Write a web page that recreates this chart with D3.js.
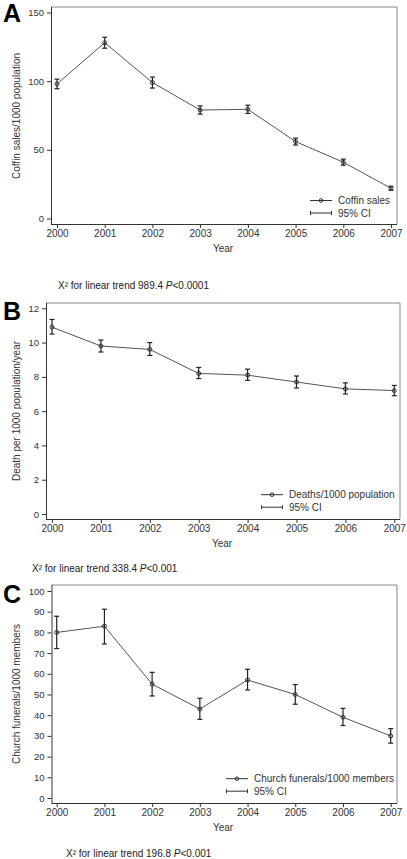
<!DOCTYPE html>
<html><head><meta charset="utf-8">
<script src="https://cdn.jsdelivr.net/npm/d3@7"></script>
<style>body{margin:0;background:#fff}svg{display:block;font-family:"Liberation Sans",Arial,sans-serif}</style>
</head><body>
<svg id="c" width="407" height="859"></svg>
<script>
const years = [2000, 2001, 2002, 2003, 2004, 2005, 2006, 2007];

const coffinSales = [98, 128, 99, 79, 79.5, 56, 41, 22];
const coffinLow   = [94.5, 124, 95, 76, 76.5, 53.5, 38.8, 20.5];
const coffinHigh  = [101.5, 132, 103, 82, 82.5, 58.5, 43.2, 23.5];
const coffinTicks = [0, 50, 100, 150];

const deaths     = [10.9, 9.8, 9.6, 8.2, 8.1, 7.7, 7.3, 7.2];
const deathsLow  = [10.5, 9.45, 9.25, 7.9, 7.8, 7.35, 7.0, 6.9];
const deathsHigh = [11.35, 10.15, 10.0, 8.55, 8.45, 8.05, 7.65, 7.5];
const deathTicks = [0, 2, 4, 6, 8, 10, 12];

const funerals     = [80, 83, 55, 43, 57, 50, 39, 30];
const funeralsLow  = [72.2, 74.4, 49.3, 38, 52.2, 45.3, 35, 26.5];
const funeralsHigh = [87.8, 91.2, 60.7, 48.2, 62.2, 54.8, 43.3, 33.5];
const funeralTicks = [0, 10, 20, 30, 40, 50, 60, 70, 80, 90, 100];

const svg = d3.select("#c");

function panel(o) {
  const g = svg.append("g");
  const x = d3.scaleLinear().domain([2000, 2007]).range([o.x0, o.x1]);
  const y = d3.scaleLinear().domain([0, o.ymax]).range([o.y0, o.y1]);
  g.append("path").attr("d", `M${o.left},${o.top}H${o.right}V${o.bottom}`)
    .attr("fill", "none").attr("stroke", "#888").attr("stroke-width", 1);
  const ya = g.append("g").attr("transform", `translate(${o.left},0)`)
    .call(d3.axisLeft(y).tickValues(o.ticks).tickSize(4).tickPadding(3).tickSizeOuter(0));
  ya.select(".domain").attr("d", `M0.5,${o.top}V${o.bottom}`).attr("stroke", "#333");
  const xa = g.append("g").attr("transform", `translate(0,${o.bottom})`)
    .call(d3.axisBottom(x).tickValues(years).tickFormat(d3.format("d")).tickSize(4).tickPadding(2).tickSizeOuter(0));
  xa.select(".domain").attr("d", `M${o.left},0.5H${o.right}`).attr("stroke", "#333");
  [ya, xa].forEach(a => {
    a.selectAll("text").attr("fill", "#333").attr("font-family", "Liberation Sans, Arial, sans-serif");
    a.selectAll(".tick line").attr("stroke", "#333");
  });
  ya.selectAll("text").attr("font-size", 9.5);
  xa.selectAll("text").attr("font-size", 10);
  g.append("text").attr("x", o.yearX).attr("y", o.bottom + 28).attr("text-anchor", "middle")
    .attr("font-size", 10).attr("fill", "#333").text("Year");
  g.append("text").attr("transform", `translate(${o.ylabX},${o.ylabY}) rotate(-90)`)
    .attr("text-anchor", "middle").attr("font-size", 10).attr("fill", "#333").text(o.ylab);
  g.append("text").attr("x", 3).attr("y", o.letterY).attr("font-size", 25).attr("font-weight", "bold")
    .attr("fill", "#000").attr("font-family", "Liberation Sans, Arial, sans-serif").text(o.letter);
  const data = years.map((yr, i) => ({yr, v: o.vals[i], lo: o.lo[i], hi: o.hi[i]}));
  g.append("path").datum(data).attr("fill", "none").attr("stroke", "#555").attr("stroke-width", 1)
    .attr("d", d3.line().x(d => x(d.yr)).y(d => y(d.v)));
  const eb = g.selectAll(".eb").data(data).enter().append("g").attr("stroke", "#222").attr("stroke-width", 1.2);
  eb.append("line").attr("x1", d => x(d.yr)).attr("x2", d => x(d.yr)).attr("y1", d => y(d.lo)).attr("y2", d => y(d.hi));
  eb.append("line").attr("x1", d => x(d.yr) - 2.5).attr("x2", d => x(d.yr) + 2.5).attr("y1", d => y(d.lo)).attr("y2", d => y(d.lo));
  eb.append("line").attr("x1", d => x(d.yr) - 2.5).attr("x2", d => x(d.yr) + 2.5).attr("y1", d => y(d.hi)).attr("y2", d => y(d.hi));
  g.selectAll(".pt").data(data).enter().append("circle").attr("cx", d => x(d.yr)).attr("cy", d => y(d.v))
    .attr("r", 2).attr("fill", "none").attr("stroke", "#333").attr("stroke-width", 1);
  const lg = g.append("g");
  lg.append("line").attr("x1", o.legX).attr("x2", o.legX + 22).attr("y1", o.legY).attr("y2", o.legY).attr("stroke", "#333");
  lg.append("circle").attr("cx", o.legX + 11).attr("cy", o.legY).attr("r", 1.8).attr("fill", "none").attr("stroke", "#333");
  lg.append("text").attr("x", o.legX + 28).attr("y", o.legY + 3.5).attr("font-size", 10).attr("fill", "#333").text(o.legText);
  const y2 = o.legY + 12.5;
  lg.append("line").attr("x1", o.legX).attr("x2", o.legX + 22).attr("y1", y2).attr("y2", y2).attr("stroke", "#333");
  lg.append("line").attr("x1", o.legX + 0.5).attr("x2", o.legX + 0.5).attr("y1", y2 - 2).attr("y2", y2 + 2).attr("stroke", "#333");
  lg.append("line").attr("x1", o.legX + 21.5).attr("x2", o.legX + 21.5).attr("y1", y2 - 2).attr("y2", y2 + 2).attr("stroke", "#333");
  lg.append("text").attr("x", o.legX + 28).attr("y", y2 + 3.5).attr("font-size", 10).attr("fill", "#333").text("95% CI");
  const fn = g.append("text").attr("x", o.noteX).attr("y", o.noteY).attr("font-size", 10).attr("fill", "#222");
  fn.append("tspan").text("X² for linear trend " + o.chi + " ");
  fn.append("tspan").attr("font-style", "italic").text("P");
  fn.append("tspan").text(o.p);
}

panel({letter: "A", letterY: 22, top: 7, bottom: 224, left: 51, right: 397, x0: 57, x1: 391, y0: 218.5, y1: 12.5, ymax: 150,
  ticks: coffinTicks, vals: coffinSales, lo: coffinLow, hi: coffinHigh,
  ylab: "Coffin sales/1000 population", ylabX: 20, ylabY: 116, yearX: 223,
  legX: 310, legY: 200.5, legText: "Coffin sales", chi: "989.4", p: "<0.0001", noteX: 58, noteY: 289});

panel({letter: "B", letterY: 320, top: 303, bottom: 519, left: 46, right: 400, x0: 52, x1: 394.3, y0: 514, y1: 308.3, ymax: 12,
  ticks: deathTicks, vals: deaths, lo: deathsLow, hi: deathsHigh,
  ylab: "Death per 1000 population/year", ylabX: 20, ylabY: 411, yearX: 222,
  legX: 261, legY: 494.7, legText: "Deaths/1000 population", chi: "338.4", p: "<0.001", noteX: 32, noteY: 572});

panel({letter: "C", letterY: 603, top: 585, bottom: 803, left: 51.5, right: 397, x0: 56.7, x1: 390.7, y0: 798, y1: 591, ymax: 100,
  ticks: funeralTicks, vals: funerals, lo: funeralsLow, hi: funeralsHigh,
  ylab: "Church funerals/1000 members", ylabX: 20, ylabY: 694, yearX: 223,
  legX: 226, legY: 778.7, legText: "Church funerals/1000 members", chi: "196.8", p: "<0.001", noteX: 66, noteY: 857});
</script>
</body></html>
